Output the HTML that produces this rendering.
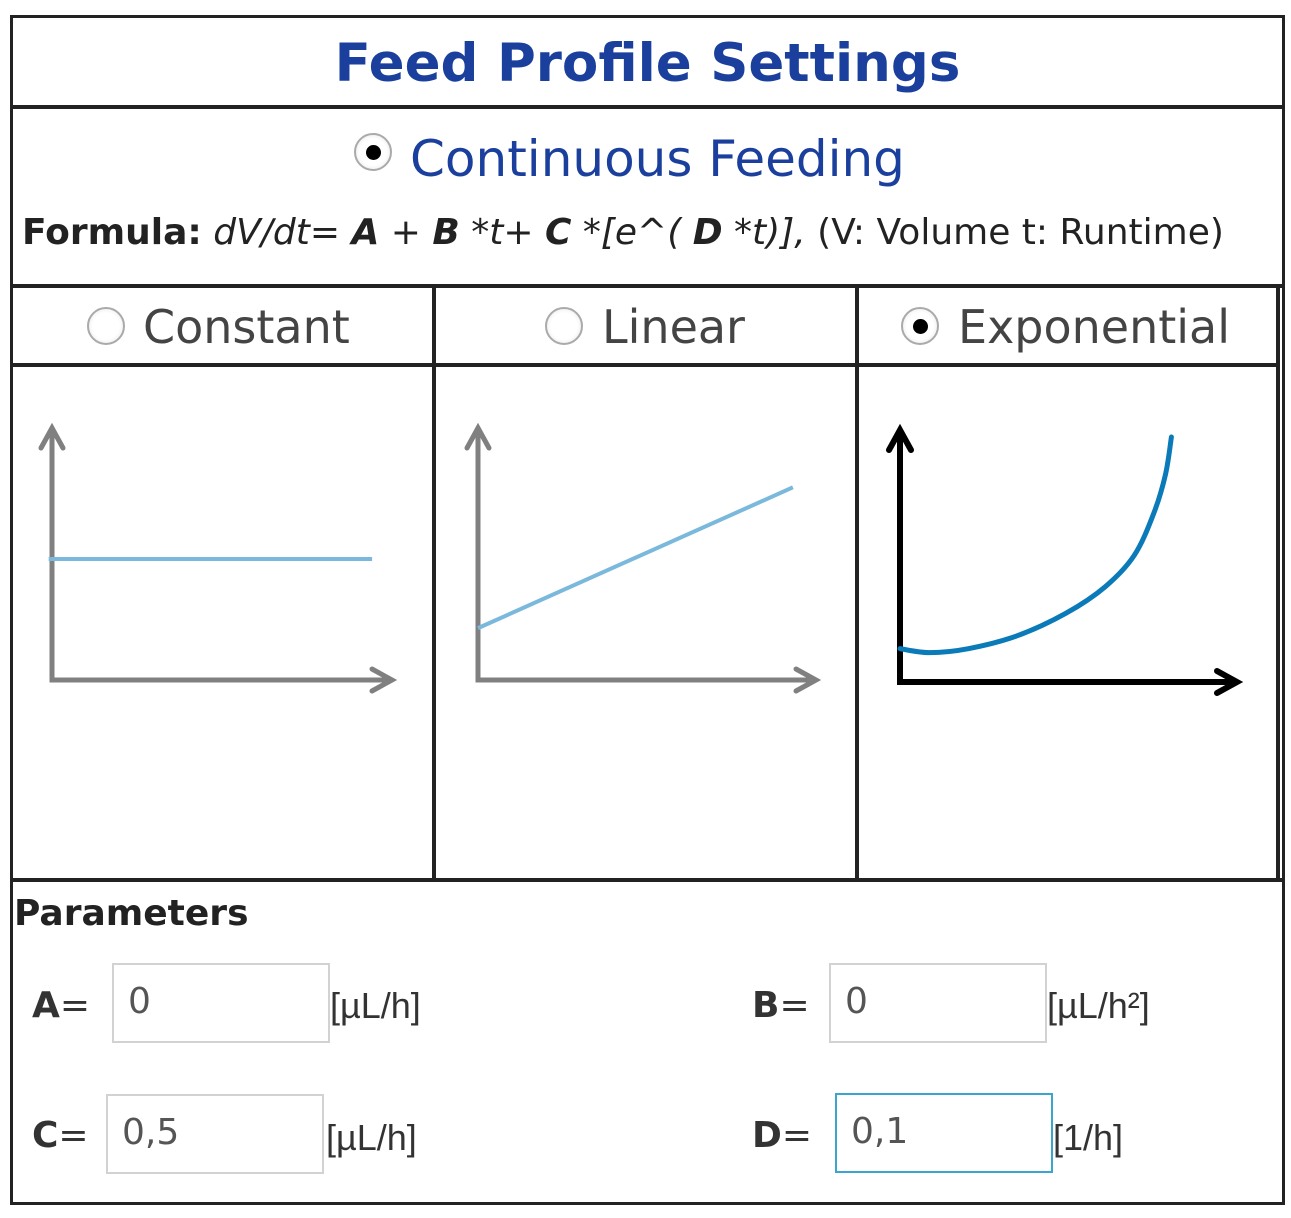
<!DOCTYPE html>
<html><head><meta charset="utf-8">
<style>
body{margin:0;width:1291px;height:1218px;background:#fff;position:relative;font-family:"DejaVu Sans","Liberation Sans",sans-serif;overflow:hidden}
.abs{position:absolute}
.box{position:absolute;border:3px solid #222;box-sizing:border-box}
.radio{position:absolute;width:38px;height:38px;border-radius:50%;border:2px solid #aaa;box-sizing:border-box;background:radial-gradient(circle,#fff 55%,#e0e0e0 100%)}
.radio.on::after{content:"";position:absolute;left:10px;top:10px;width:15px;height:15px;border-radius:50%;background:#000}
.opt{position:absolute;font-size:46px;color:#444;top:300px}
.inp{position:absolute;border:2px solid #d2d2d2;box-sizing:border-box;background:#fff;font-size:36px;color:#555;padding-left:14px;line-height:74px;height:80px}
.lbl{position:absolute;font-size:36px;color:#333}
.unit{position:absolute;font-size:36px;color:#333;font-family:"Liberation Sans",sans-serif}
</style></head><body>
<div class="box" style="left:10px;top:15px;width:1275px;height:1190px"></div>
<div class="abs" style="left:10px;top:105px;width:1275px;height:4px;background:#222"></div>
<div class="abs" style="left:10px;top:33px;width:1275px;text-align:center;font-size:53px;font-weight:bold;color:#1a3f9c">Feed Profile Settings</div>
<div class="radio on" style="left:354px;top:133px"></div>
<div class="abs" style="left:410px;top:130px;font-size:50px;color:#1a3f9c">Continuous Feeding</div>
<div class="abs" style="left:22px;top:212px;font-size:36px;color:#222;white-space:nowrap;width:1220px;overflow:hidden"><b>Formula:</b> <i>dV/dt= <b>A</b> + <b>B</b> *t+ <b>C</b> *[e^( <b>D</b> *t)],</i> (V: Volume t: Runtime)</div>
<div class="abs" style="left:10px;top:284px;width:1275px;height:4px;background:#222"></div>
<div class="abs" style="left:10px;top:363px;width:1270px;height:4px;background:#222"></div>
<div class="abs" style="left:10px;top:878px;width:1275px;height:4px;background:#222"></div>
<div class="abs" style="left:432px;top:286px;width:4px;height:594px;background:#222"></div>
<div class="abs" style="left:855px;top:286px;width:4px;height:594px;background:#222"></div>
<div class="abs" style="left:1276px;top:286px;width:4px;height:594px;background:#222"></div>
<div class="radio" style="left:87px;top:307px"></div>
<div class="opt" style="left:143px">Constant</div>
<div class="radio" style="left:545px;top:307px"></div>
<div class="opt" style="left:602px">Linear</div>
<div class="radio on" style="left:901px;top:307px"></div>
<div class="opt" style="left:958px">Exponential</div>
<svg class="abs" style="left:0;top:0" width="1291" height="1218" id="g"></svg>
<div class="abs" style="left:14px;top:893px;font-size:36px;font-weight:bold;color:#222">Parameters</div>
<div class="lbl" style="left:32px;top:985px"><b>A</b>=</div>
<div class="inp" style="left:112px;top:963px;width:218px">0</div>
<div class="unit" style="left:330px;top:985px">[µL/h]</div>
<div class="lbl" style="left:752px;top:985px"><b>B</b>=</div>
<div class="inp" style="left:829px;top:963px;width:218px">0</div>
<div class="unit" style="left:1047px;top:985px">[µL/h²]</div>
<div class="lbl" style="left:32px;top:1115px"><b>C</b>=</div>
<div class="inp" style="left:106px;top:1094px;width:218px">0,5</div>
<div class="unit" style="left:326px;top:1117px">[µL/h]</div>
<div class="lbl" style="left:752px;top:1115px"><b>D</b>=</div>
<div class="inp" style="left:835px;top:1093px;width:218px;border-color:#3aa6d0">0,1</div>
<div class="unit" style="left:1053px;top:1117px">[1/h]</div>
<script>
// data (unit coordinates, axes 0..10)
const constY = [4.9, 4.9];
const constX = [-0.1, 9.7];
const linX = [0, 9.6];
const linY = [2.1, 7.8];
const expX = [0, 0.9, 2.09, 3.58, 5.07, 6.27, 7.16, 7.76, 8.12, 8.3];
const expY = [1.35, 1.19, 1.35, 1.87, 2.78, 3.85, 5.12, 6.83, 8.41, 9.92];
const svg = document.getElementById('g');
const NS = 'http://www.w3.org/2000/svg';
function mk(tag, attrs, name){
  const e = document.createElementNS(NS, tag);
  for (const k in attrs) e.setAttribute(k, attrs[k]);
  
  
  svg.appendChild(e); return e;
}
function panel(ox, oy, xEnd, yTop, color, w, prefix){
  const sx = v => ox + v * (xEnd - ox - 10) / 10;
  const sy = v => oy - v * (oy - yTop - 5) / 10;
  mk('polyline', {points:`${ox},${yTop} ${ox},${oy} ${xEnd},${oy}`, fill:'none', stroke:color, 'stroke-width':w}, prefix+'-axes');
  mk('polyline', {points:`${ox-11},${yTop+20} ${ox},${yTop} ${ox+11},${yTop+20}`, fill:'none', stroke:color, 'stroke-width':w, 'stroke-linecap':'round'}, prefix+'-y-arrow');
  mk('polyline', {points:`${xEnd-20},${oy-11} ${xEnd},${oy} ${xEnd-20},${oy+11}`, fill:'none', stroke:color, 'stroke-width':w, 'stroke-linecap':'round'}, prefix+'-x-arrow');
  return {sx, sy};
}
function smooth(pts){
  let d = `M${pts[0][0]},${pts[0][1]}`;
  for (let i=0;i<pts.length-1;i++){
    const p0=pts[Math.max(0,i-1)], p1=pts[i], p2=pts[i+1], p3=pts[Math.min(pts.length-1,i+2)];
    const c1=[p1[0]+(p2[0]-p0[0])/6, p1[1]+(p2[1]-p0[1])/6];
    const c2=[p2[0]-(p3[0]-p1[0])/6, p2[1]-(p3[1]-p1[1])/6];
    d += ` C${c1[0]},${c1[1]} ${c2[0]},${c2[1]} ${p2[0]},${p2[1]}`;
  }
  return d;
}
let a = panel(52, 680, 392, 428, '#808080', 5, 'constant');
mk('polyline', {points: constX.map((x,i)=>`${a.sx(x)},${a.sy(constY[i])}`).join(' '), fill:'none', stroke:'#7ab8dc', 'stroke-width':4}, 'constant-line');
a = panel(478, 680, 816, 428, '#808080', 5, 'linear');
mk('polyline', {points: linX.map((x,i)=>`${a.sx(x)},${a.sy(linY[i])}`).join(' '), fill:'none', stroke:'#7ab8dc', 'stroke-width':4}, 'linear-line');
a = panel(900, 682, 1237, 430, '#000', 6, 'exponential');
mk('path', {d: smooth(expX.map((x,i)=>[a.sx(x), a.sy(expY[i])])), fill:'none', stroke:'#0a7ab8', 'stroke-width':5, 'stroke-linecap':'round'}, 'exponential-curve');
</script>
</body></html>
